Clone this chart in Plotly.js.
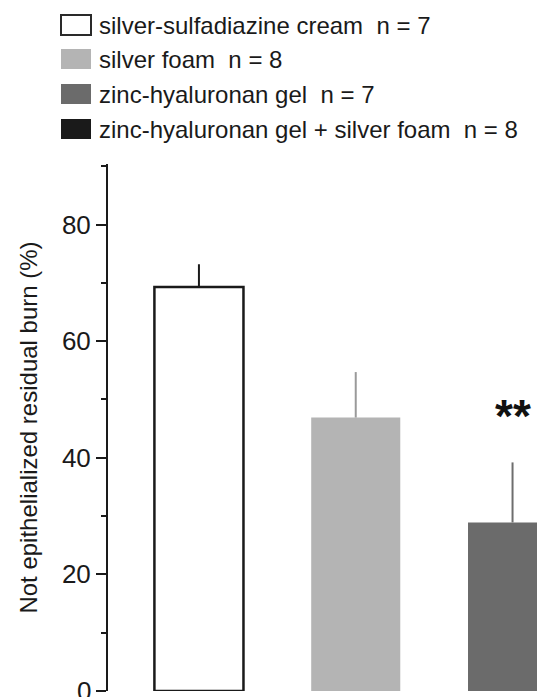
<!DOCTYPE html>
<html>
<head>
<meta charset="utf-8">
<script src="https://cdn.plot.ly/plotly-3.0.1.min.js"></script>
<style>html,body{margin:0;padding:0;background:#fff;}</style>
</head>
<body>
<div id="chart" style="width:537px;height:697px;"></div>
<script>
// ---- data ----
const categories = ["silver-sulfadiazine cream", "silver foam", "zinc-hyaluronan gel", "zinc-hyaluronan gel + silver foam"];
const nValues = [7, 8, 7, 8];
const means = [69.3, 46.9, 28.9, null];      // 4th bar lies outside the visible crop
const errUp = [3.9, 7.8, 10.3, null];
const significance = ["", "", "**", ""];
const yTickVals = [0, 20, 40, 60, 80];
const yTickText = ["0", "20", "40", "60", "80"];

// ---- styles ----
const fills = ["#ffffff", "#b4b4b4", "#6b6b6b", "#1a1a1a"];
const lines = ["#1a1a1a", "#b4b4b4", "#6b6b6b", "#1a1a1a"];
const errColors = ["#1a1a1a", "#9a9a9a", "#6e6e6e", "#1a1a1a"];
const lineW = [2.5, 0, 0, 0];
const FONT = "Liberation Sans, Arial, Helvetica, sans-serif";

const W = 537, H = 697;
const M = {l: 108, r: 0, t: 164, b: 6};
const plotW = W - M.l - M.r, plotH = H - M.t - M.b;
const px = p => (p - M.l) / plotW;
const py = p => (H - M.b - p) / plotH;

const traces = categories.map((c, i) => ({
  type: "bar",
  x: [c],
  y: [means[i]],
  width: 0.568,
  marker: {color: fills[i], line: {color: lines[i], width: lineW[i]}},
  error_y: {type: "data", symmetric: false, array: [errUp[i]], arrayminus: [0],
            color: errColors[i], thickness: 2, width: 0, visible: true},
  showlegend: false,
  cliponaxis: true,
  hoverinfo: "skip"
}));

const shapes = [];
const annotations = [];
const rowY = [25, 59, 94, 129];
categories.forEach((c, i) => {
  shapes.push({type: "rect", xref: "paper", yref: "paper",
    x0: px(61), x1: px(91), y0: py(rowY[i] + 10), y1: py(rowY[i] - 10),
    fillcolor: fills[i], line: {color: i === 0 ? "#2a2a2a" : fills[i], width: i === 0 ? 2 : 0}});
  annotations.push({xref: "paper", yref: "paper", x: px(97), y: py(rowY[i]),
    xanchor: "left", yanchor: "middle", showarrow: false,
    text: c + "\u00a0 n = " + nValues[i],
    font: {family: FONT, size: 24, color: "#1a1a1a"}});
});
categories.forEach((c, i) => {
  if (significance[i] && means[i] != null) {
    annotations.push({x: c, y: means[i] + errUp[i] + 8.0, xref: "x", yref: "y",
      text: "<b>" + significance[i] + "</b>", showarrow: false,
      xanchor: "center", yanchor: "middle",
      font: {family: FONT, size: 46, color: "#111"}});
  }
});
// Plotly drops the bottom tick label because it overflows the figure; draw it as text at the same place
annotations.push({xref: "paper", yref: "y", x: px(93), y: yTickVals[0], xanchor: "right", yanchor: "middle",
  showarrow: false, text: yTickText[0], font: {family: FONT, size: 26, color: "#1a1a1a"}});

const layout = {
  width: W, height: H,
  margin: {l: M.l, r: M.r, t: M.t, b: M.b, pad: 0},
  paper_bgcolor: "#fff", plot_bgcolor: "#fff",
  barmode: "overlay",
  showlegend: false,
  xaxis: {type: "category", categoryarray: categories, categoryorder: "array",
          range: [-0.58, 2.156], showticklabels: false, ticks: "",
          showline: false, showgrid: false, zeroline: false, fixedrange: true},
  yaxis: {range: [-0.02, 90.4], tickvals: yTickVals, ticktext: yTickVals.map((v, i) => i === 0 ? "" : yTickText[i]),
          ticks: "outside", ticklen: 10, tickwidth: 2, tickcolor: "#1a1a1a",
          minor: {dtick: 10, ticks: "outside", ticklen: 5, tickwidth: 2, tickcolor: "#1a1a1a"},
          showline: true, linewidth: 2, linecolor: "#1a1a1a",
          showgrid: false, zeroline: false,
          tickfont: {family: FONT, size: 26, color: "#1a1a1a"},
          title: {text: "Not epithelialized residual burn (%)", standoff: 17,
                  font: {family: FONT, size: 24, color: "#1a1a1a"}}},
  shapes: shapes,
  annotations: annotations
};

Plotly.newPlot("chart", traces, layout, {displayModeBar: false, staticPlot: true});
</script>
</body>
</html>
